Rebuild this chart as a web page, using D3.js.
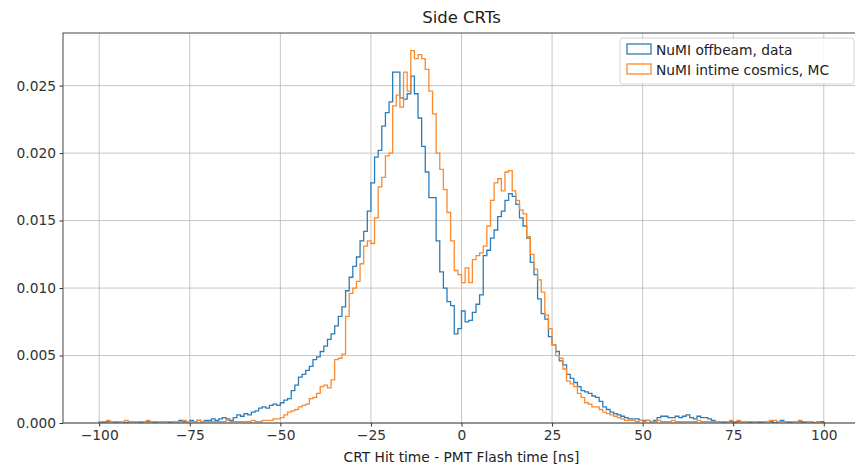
<!DOCTYPE html>
<html>
<head>
<meta charset="utf-8">
<script src="https://cdn.jsdelivr.net/npm/d3@7"></script>
<style>
  body { margin: 0; background: #fff; }
  svg { display: block; font-family: "DejaVu Sans", sans-serif; }
</style>
</head>
<body>
<svg id="chart" width="855" height="466"></svg>
<script>
// ---- Data (bin edges -100 .. 100, 1 ns bins) ----
const binStart = -100;
const binWidth = 1;
const seriesNames = ["NuMI offbeam, data", "NuMI intime cosmics, MC"];
const xTicks = [-100, -75, -50, -25, 0, 25, 50, 75, 100];
const yTicks = [0.000, 0.005, 0.010, 0.015, 0.020, 0.025];

const offbeamData = [
  // -100 .. -91
  0.0001, 0.0000, 0.0001, 0.0001, 0.0000, 0.0001, 0.0001, 0.0000, 0.0001, 0.0001,
  // -90 .. -81
  0.0001, 0.0000, 0.0001, 0.0001, 0.0001, 0.0000, 0.0001, 0.0001, 0.0001, 0.0000,
  // -80 .. -71
  0.0001, 0.0001, 0.0002, 0.0001, 0.0001, 0.0002, 0.0001, 0.0002, 0.0001, 0.0002,
  // -70 .. -61
  0.0002, 0.0003, 0.0002, 0.0003, 0.0004, 0.0003, 0.0002, 0.0004, 0.0006, 0.0005,
  // -60 .. -51
  0.0007, 0.0006, 0.0008, 0.0009, 0.0011, 0.0012, 0.0011, 0.0013, 0.0014, 0.0013,
  // -50 .. -41
  0.0015, 0.0017, 0.0018, 0.0024, 0.0028, 0.0034, 0.0036, 0.0039, 0.0042, 0.0047,
  // -40 .. -31
  0.0049, 0.0053, 0.0057, 0.0062, 0.0066, 0.0072, 0.0079, 0.0086, 0.0098, 0.0108,
  // -30 .. -21
  0.0116, 0.0123, 0.0135, 0.0142, 0.0157, 0.0178, 0.0197, 0.0202, 0.0220, 0.0230,
  // -20 .. -11
  0.0238, 0.0260, 0.0260, 0.0241, 0.0240, 0.0244, 0.0257, 0.0244, 0.0226, 0.0205,
  // -10 .. -1
  0.0186, 0.0167, 0.0167, 0.0135, 0.0112, 0.0100, 0.0090, 0.0087, 0.0066, 0.0070,
  // 0 .. 9
  0.0083, 0.0075, 0.0076, 0.0082, 0.0088, 0.0095, 0.0124, 0.0128, 0.0137, 0.0143,
  // 10 .. 19
  0.0153, 0.0157, 0.0165, 0.0170, 0.0168, 0.0162, 0.0152, 0.0146, 0.0137, 0.0119,
  // 20 .. 29
  0.0110, 0.0092, 0.0081, 0.0077, 0.0064, 0.0058, 0.0053, 0.0046, 0.0043, 0.0036,
  // 30 .. 39
  0.0033, 0.0030, 0.0027, 0.0024, 0.0023, 0.0022, 0.0020, 0.0019, 0.0016, 0.0012,
  // 40 .. 49
  0.0010, 0.0008, 0.0007, 0.0006, 0.0005, 0.0004, 0.0003, 0.0003, 0.0003, 0.0002,
  // 50 .. 59
  0.0002, 0.0002, 0.0001, 0.0002, 0.0004, 0.0005, 0.0005, 0.0004, 0.0004, 0.0005,
  // 60 .. 69
  0.0004, 0.0005, 0.0006, 0.0004, 0.0003, 0.0005, 0.0004, 0.0004, 0.0003, 0.0002,
  // 70 .. 79
  0.0001, 0.0001, 0.0000, 0.0001, 0.0001, 0.0000, 0.0001, 0.0001, 0.0001, 0.0000,
  // 80 .. 89
  0.0001, 0.0001, 0.0000, 0.0001, 0.0001, 0.0001, 0.0000, 0.0001, 0.0002, 0.0001,
  // 90 .. 99
  0.0000, 0.0001, 0.0001, 0.0001, 0.0000, 0.0001, 0.0001, 0.0000, 0.0001, 0.0001
];

const intimeMC = [
  // -100 .. -91
  0.0001, 0.0001, 0.0002, 0.0001, 0.0001, 0.0001, 0.0001, 0.0002, 0.0001, 0.0001,
  // -90 .. -81
  0.0001, 0.0001, 0.0001, 0.0002, 0.0001, 0.0001, 0.0001, 0.0001, 0.0001, 0.0001,
  // -80 .. -71
  0.0001, 0.0001, 0.0001, 0.0002, 0.0001, 0.0001, 0.0001, 0.0002, 0.0001, 0.0001,
  // -70 .. -61
  0.0001, 0.0001, 0.0001, 0.0001, 0.0001, 0.0002, 0.0001, 0.0001, 0.0001, 0.0001,
  // -60 .. -51
  0.0001, 0.0001, 0.0002, 0.0001, 0.0001, 0.0002, 0.0002, 0.0002, 0.0003, 0.0003,
  // -50 .. -41
  0.0004, 0.0006, 0.0008, 0.0009, 0.0010, 0.0012, 0.0013, 0.0014, 0.0018, 0.0019,
  // -40 .. -31
  0.0022, 0.0027, 0.0028, 0.0026, 0.0032, 0.0047, 0.0048, 0.0051, 0.0079, 0.0096,
  // -30 .. -21
  0.0100, 0.0105, 0.0118, 0.0131, 0.0135, 0.0133, 0.0152, 0.0175, 0.0182, 0.0198,
  // -20 .. -11
  0.0200, 0.0235, 0.0243, 0.0234, 0.0260, 0.0246, 0.0276, 0.0270, 0.0273, 0.0270,
  // -10 .. -1
  0.0262, 0.0246, 0.0229, 0.0200, 0.0188, 0.0173, 0.0156, 0.0135, 0.0113, 0.0110,
  // 0 .. 9
  0.0104, 0.0115, 0.0104, 0.0121, 0.0124, 0.0126, 0.0131, 0.0146, 0.0165, 0.0178,
  // 10 .. 19
  0.0181, 0.0172, 0.0186, 0.0187, 0.0172, 0.0165, 0.0158, 0.0155, 0.0138, 0.0125,
  // 20 .. 29
  0.0114, 0.0106, 0.0097, 0.0080, 0.0070, 0.0058, 0.0050, 0.0048, 0.0040, 0.0031,
  // 30 .. 39
  0.0029, 0.0027, 0.0022, 0.0019, 0.0015, 0.0014, 0.0012, 0.0012, 0.0010, 0.0008,
  // 40 .. 49
  0.0007, 0.0006, 0.0005, 0.0004, 0.0003, 0.0002, 0.0002, 0.0002, 0.0001, 0.0002,
  // 50 .. 59
  0.0001, 0.0002, 0.0001, 0.0001, 0.0002, 0.0001, 0.0001, 0.0001, 0.0002, 0.0001,
  // 60 .. 69
  0.0001, 0.0001, 0.0001, 0.0001, 0.0001, 0.0002, 0.0001, 0.0001, 0.0001, 0.0001,
  // 70 .. 79
  0.0001, 0.0001, 0.0001, 0.0001, 0.0002, 0.0001, 0.0002, 0.0001, 0.0001, 0.0001,
  // 80 .. 89
  0.0001, 0.0001, 0.0001, 0.0001, 0.0001, 0.0002, 0.0002, 0.0001, 0.0001, 0.0001,
  // 90 .. 99
  0.0001, 0.0001, 0.0001, 0.0002, 0.0001, 0.0001, 0.0001, 0.0000, 0.0001, 0.0000
];

const colors = ["#2a7dba", "#fb8a2e"];

// ---- Layout ----
const svg = d3.select("#chart");
const plot = { left: 63, right: 860, top: 33, bottom: 423 };

const x = d3.scaleLinear().domain([-110, 110]).range([plot.left, plot.right]);
const y = d3.scaleLinear().domain([0, 0.0289]).range([plot.bottom, plot.top]);

svg.append("defs").append("clipPath").attr("id", "clip")
  .append("rect")
  .attr("x", plot.left).attr("y", plot.top)
  .attr("width", plot.right - plot.left).attr("height", plot.bottom - plot.top);

// Grid
const grid = svg.append("g");
grid.selectAll("line.gx").data(xTicks).join("line")
  .attr("x1", d => x(d)).attr("x2", d => x(d))
  .attr("y1", plot.top).attr("y2", plot.bottom)
  .attr("stroke", "#b8b8b8").attr("stroke-width", 0.8);
grid.selectAll("line.gy").data(yTicks).join("line")
  .attr("x1", plot.left).attr("x2", plot.right)
  .attr("y1", d => y(d)).attr("y2", d => y(d))
  .attr("stroke", "#b8b8b8").attr("stroke-width", 0.8);

// Step histograms
function stepPoints(vals) {
  const pts = [[binStart, 0]];
  vals.forEach((v, i) => {
    const x0 = binStart + i * binWidth;
    pts.push([x0, v], [x0 + binWidth, v]);
  });
  pts.push([binStart + vals.length * binWidth, 0]);
  return pts;
}
const line = d3.line().x(d => x(d[0])).y(d => y(d[1]));
const dataSets = [offbeamData, intimeMC];
svg.append("g").attr("clip-path", "url(#clip)")
  .selectAll("path").data(dataSets).join("path")
  .attr("d", d => line(stepPoints(d)))
  .attr("fill", "none")
  .attr("stroke", (d, i) => colors[i])
  .attr("stroke-width", 1.3)
  .attr("stroke-linejoin", "miter");

// Axes
const fs = "13.8px";
const xAxis = d3.axisBottom(x).tickValues(xTicks).tickSize(3.5).tickPadding(3.5)
  .tickFormat(d => d < 0 ? "\u2212" + Math.abs(d) : String(d));
const gx = svg.append("g").attr("transform", `translate(0,${plot.bottom})`).call(xAxis);
gx.select(".domain").remove();
gx.selectAll("text").attr("font-size", fs).attr("fill", "#333").attr("font-family", "DejaVu Sans, sans-serif");
gx.selectAll("line").attr("stroke", "#333");

const yAxis = d3.axisLeft(y).tickValues(yTicks).tickSize(3.5).tickPadding(3.5)
  .tickFormat(d3.format(".3f"));
const gy = svg.append("g").attr("transform", `translate(${plot.left},0)`).call(yAxis);
gy.select(".domain").remove();
gy.selectAll("text").attr("font-size", fs).attr("fill", "#333").attr("font-family", "DejaVu Sans, sans-serif");
gy.selectAll("line").attr("stroke", "#333");

// Frame
svg.append("rect")
  .attr("x", plot.left).attr("y", plot.top)
  .attr("width", plot.right - plot.left).attr("height", plot.bottom - plot.top)
  .attr("fill", "none").attr("stroke", "#333").attr("stroke-width", 0.9);

// Title and label
svg.append("text").attr("x", (plot.left + plot.right) / 2).attr("y", 23)
  .attr("text-anchor", "middle").attr("font-size", "16.5px").attr("fill", "#222")
  .text("Side CRTs");
svg.append("text").attr("x", (plot.left + plot.right) / 2).attr("y", 462)
  .attr("text-anchor", "middle").attr("font-size", fs).attr("fill", "#222")
  .text("CRT Hit time - PMT Flash time [ns]");

// Legend
const lg = svg.append("g").attr("transform", "translate(620,38)");
lg.append("rect").attr("x", 0).attr("y", 0).attr("width", 234).attr("height", 46)
  .attr("rx", 3).attr("fill", "#fff").attr("fill-opacity", 0.85)
  .attr("stroke", "#d0d0d0").attr("stroke-width", 0.9);
seriesNames.forEach((name, i) => {
  const yy = 6 + i * 20;
  lg.append("rect").attr("x", 7).attr("y", yy).attr("width", 24).attr("height", 10)
    .attr("fill", "none").attr("stroke", colors[i]).attr("stroke-width", 1.3);
  lg.append("text").attr("x", 36).attr("y", yy + 10.5)
    .attr("font-size", fs).attr("fill", "#222").text(name);
});
</script>
</body>
</html>
